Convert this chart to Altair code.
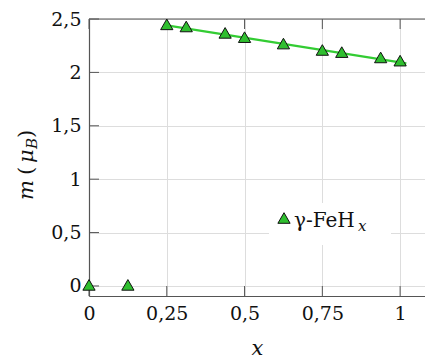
import altair as alt
import pandas as pd

x_vals = [0, 0.125, 0.25, 0.3125, 0.4375, 0.5, 0.625, 0.75, 0.8125, 0.9375, 1.0]
m_vals = [0.01, 0.01, 2.45, 2.43, 2.37, 2.33, 2.27, 2.21, 2.19, 2.14, 2.11]
fit_x = [0.25, 1.02]
fit_m = [2.44, 2.085]
x_ticks = [0, 0.25, 0.5, 0.75, 1]
y_ticks = [0, 0.5, 1, 1.5, 2, 2.5]

pts = pd.DataFrame({"x": x_vals, "m": m_vals})
fit = pd.DataFrame({"x": fit_x, "m": fit_m})
xt = pd.DataFrame({"x": x_ticks})
yt_df = pd.DataFrame({"m": y_ticks})
one = pd.DataFrame({"k": [0]})

FONT = "DejaVu Serif"
FRAME = "#555555"
W, H = 336, 277
xs = alt.Scale(domain=[0, 1.08], nice=False, zero=False)
ys = alt.Scale(domain=[-0.094, 2.5], nice=False, zero=False)
lab = "replace(toString(datum.value), '.', ',')"

base_axis = dict(grid=True, gridColor="#dddddd", gridWidth=1, domainColor=FRAME,
                 domainWidth=1.2, ticks=False,
                 labelFont=FONT, labelFontSize=19, labelColor="#111111",
                 titleFont=FONT, labelPadding=8)

xaxis = alt.Axis(values=x_ticks, labelExpr=lab, title="x", titleFontStyle="italic",
                 titleFontSize=21, titleFontWeight="normal", titleColor="#111111",
                 titlePadding=14, labelFlush=False, **base_axis)
yaxis = alt.Axis(values=y_ticks, labelExpr=lab, title=None, **base_axis)

line = alt.Chart(fit).mark_line(color="#33cc33", strokeWidth=2.2).encode(
    x=alt.X("x:Q", scale=xs, axis=xaxis),
    y=alt.Y("m:Q", scale=ys, axis=yaxis),
)
points = alt.Chart(pts).mark_point(shape="triangle-up", size=150, filled=True,
                                   fill="#2fbf2f", stroke="#111111", strokeWidth=1,
                                   opacity=1).encode(
    x=alt.X("x:Q", scale=xs),
    y=alt.Y("m:Q", scale=ys),
)
top = alt.Chart(one).mark_rule(color=FRAME, strokeWidth=1.2).encode(
    x=alt.value(0), x2=alt.value(W), y=alt.value(0))
tick_style = dict(color=FRAME, strokeWidth=1)
xt_bottom = alt.Chart(xt).mark_rule(**tick_style).encode(
    x=alt.X("x:Q", scale=xs), y=alt.value(H), y2=alt.value(H - 10))
xt_top = alt.Chart(xt).mark_rule(**tick_style).encode(
    x=alt.X("x:Q", scale=xs), y=alt.value(0), y2=alt.value(10))
yt_left = alt.Chart(yt_df).mark_rule(**tick_style).encode(
    y=alt.Y("m:Q", scale=ys), x=alt.value(0), x2=alt.value(10))

leg_bg = alt.Chart(one).mark_rect(color="white").encode(
    x=alt.value(180), x2=alt.value(302), y=alt.value(184), y2=alt.value(226))
leg_sym = alt.Chart(one).mark_point(shape="triangle-up", size=150, filled=True,
                                    fill="#2fbf2f", stroke="#111111", strokeWidth=1,
                                    opacity=1).encode(x=alt.value(195), y=alt.value(199))
leg_txt = alt.Chart(one).mark_text(text="γ-FeH", font=FONT, fontSize=20, align="left",
                                   baseline="alphabetic", color="#111111").encode(
    x=alt.value(205), y=alt.value(208))
leg_sub = alt.Chart(one).mark_text(text="x", font=FONT, fontSize=15, fontStyle="italic",
                                   align="left", baseline="alphabetic",
                                   color="#111111").encode(x=alt.value(269), y=alt.value(212))

def ytxt(t, y, size=21, style="normal", dx=0):
    return alt.Chart(one).mark_text(text=t, font=FONT, fontSize=size, fontStyle=style,
                                    angle=270, align="left", baseline="alphabetic",
                                    color="#111111").encode(
        x=alt.value(-56 + dx), y=alt.value(y))

yt = (ytxt("m", 181, style="italic") + ytxt("(", 156) + ytxt("μ", 144, style="italic")
      + ytxt("B", 130, size=15, style="italic", dx=4) + ytxt(")", 119))

chart = alt.layer(line, top, xt_bottom, xt_top, yt_left, leg_bg, points, leg_sym,
                  leg_txt, leg_sub, yt).properties(
    width=W, height=H,
    autosize=alt.AutoSizeParams(type="none"),
    padding={"left": 89, "top": 19, "right": 0, "bottom": 66},
).configure_view(stroke=None)

chart.save("out.html", embed_options={"renderer": "svg", "actions": False})
